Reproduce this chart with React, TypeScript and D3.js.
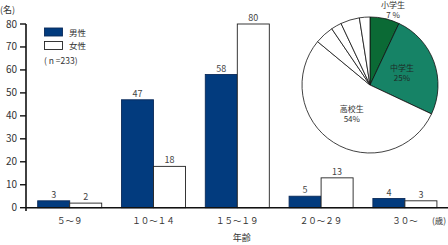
import React from "react";
import * as d3 from "d3";

const categories = ["５～９", "１０～１４", "１５～１９", "２０～２９", "３０～"];
const maleValues = [3, 47, 58, 5, 4];
const femaleValues = [2, 18, 80, 13, 3];
const yTicks = [0, 10, 20, 30, 40, 50, 60, 70, 80];
const seriesNames = ["男性", "女性"];
const sampleNote = "( n =233)";

const pieLabels = ["小学生", "中学生", "高校生", "大学生", "専門学校生", "社会人", "その他"];
const pieValues = [7, 25, 54, 4.5, 2.5, 4.5, 2.5];
const pieShown = [true, true, true, false, false, false, false];

const W = 448;
const H = 245;
const FONT = "'Noto Sans CJK JP', 'Noto Sans', sans-serif";
const MALE = "#023b7e";
const PIE_COLORS = ["#0b6a35", "#168366", "#ffffff", "#ffffff", "#ffffff", "#ffffff", "#ffffff"];
const TXT = "#333";

export default function App() {
  const x0 = d3
    .scaleBand<string>()
    .domain(categories)
    .range([27.8, 446.8])
    .paddingInner(0.236)
    .paddingOuter(0.118);
  const x1 = d3.scaleBand<number>().domain([0, 1]).range([0, x0.bandwidth()]);
  const y = d3.scaleLinear().domain([0, 80]).range([207.7, 24]);
  const axisX = 26;

  const cx = 370;
  const cy = 85;
  const r = 68;
  const pie = d3
    .pie<number>()
    .sort(null)
    .value((d) => d)
    .startAngle(0)
    .endAngle(2 * Math.PI);
  const arcs = pie(pieValues);
  const arcGen = d3.arc<d3.PieArcDatum<number>>().innerRadius(0).outerRadius(r);
  const innerLabelArc = d3
    .arc<d3.PieArcDatum<number>>()
    .innerRadius(r * 0.5)
    .outerRadius(r * 0.5);

  return (
    <svg
      width={W}
      height={H}
      style={{ position: "absolute", left: 0, top: 0, background: "#fff" }}
      fontFamily={FONT}
    >
      {/* bars */}
      {categories.map((c, i) => {
        const vals = [maleValues[i], femaleValues[i]];
        return (
          <g key={c} transform={`translate(${x0(c)},0)`}>
            {vals.map((v, j) => (
              <g key={j}>
                <rect
                  x={x1(j)}
                  y={y(v)}
                  width={x1.bandwidth()}
                  height={y(0) - y(v)}
                  fill={j === 0 ? MALE : "#fff"}
                  stroke={j === 0 ? "#0a2a5a" : "#222"}
                  strokeWidth={0.9}
                />
                <text
                  x={(x1(j) as number) + x1.bandwidth() / 2}
                  y={y(v) - 3}
                  textAnchor="middle"
                  fontSize={9}
                  fill="#444"
                >
                  {v}
                </text>
              </g>
            ))}
            <text
              x={x0.bandwidth() / 2}
              y={224}
              textAnchor="middle"
              fontSize={8.5}
              fill={TXT}
            >
              {c}
            </text>
          </g>
        );
      })}

      {/* y axis */}
      <line x1={axisX} x2={axisX} y1={y(80)} y2={211} stroke="#111" strokeWidth={1.6} />
      {yTicks.map((t) => (
        <g key={t}>
          <line x1={axisX - 6} x2={axisX} y1={y(t)} y2={y(t)} stroke="#111" strokeWidth={1.4} />
          <text x={17} y={y(t) + 3.5} textAnchor="end" fontSize={10} fill={TXT}>
            {t}
          </text>
        </g>
      ))}
      <line x1={axisX} x2={W} y1={y(0)} y2={y(0)} stroke="#111" strokeWidth={1.4} />
      <text x={0} y={13} fontSize={9} fill={TXT}>
        (名)
      </text>
      <text x={439} y={224} textAnchor="middle" fontSize={8.5} fill={TXT}>
        (歳)
      </text>
      <text x={241.7} y={241} textAnchor="middle" fontSize={9} fill={TXT}>
        年齢
      </text>

      {/* legend */}
      {seriesNames.map((s, i) => (
        <g key={s} transform={`translate(44.5,${28 + i * 13.5})`}>
          <rect
            width={18}
            height={8}
            fill={i === 0 ? MALE : "#fff"}
            stroke={i === 0 ? "#0a2a5a" : "#222"}
            strokeWidth={0.9}
          />
          <text x={24.5} y={7.5} fontSize={8.5} fill={TXT}>
            {s}
          </text>
        </g>
      ))}
      <text x={44} y={64} fontSize={8.5} fill={TXT}>
        {sampleNote}
      </text>

      {/* pie */}
      <g transform={`translate(${cx},${cy})`}>
        {arcs.map((a, i) => (
          <path
            key={pieLabels[i]}
            d={arcGen(a) as string}
            fill={PIE_COLORS[i]}
            stroke="#111"
            strokeWidth={0.8}
          />
        ))}
        {arcs.map((a, i) => {
          if (!pieShown[i]) return null;
          let px: number;
          let py: number;
          if (i === 0) {
            px = 23;
            py = -75;
          } else {
            [px, py] = innerLabelArc.centroid(a);
          }
          const col = i === 1 ? "#1e2b26" : TXT;
          const pct = i === 0 ? `${pieValues[i]} %` : `${pieValues[i]}%`;
          return (
            <g key={"l" + i}>
              <text x={px} y={py - 2} textAnchor="middle" fontSize={8} fill={col}>
                {pieLabels[i]}
              </text>
              <text x={px} y={py + 8} textAnchor="middle" fontSize={8} fill={col}>
                {pct}
              </text>
            </g>
          );
        })}
      </g>
    </svg>
  );
}
